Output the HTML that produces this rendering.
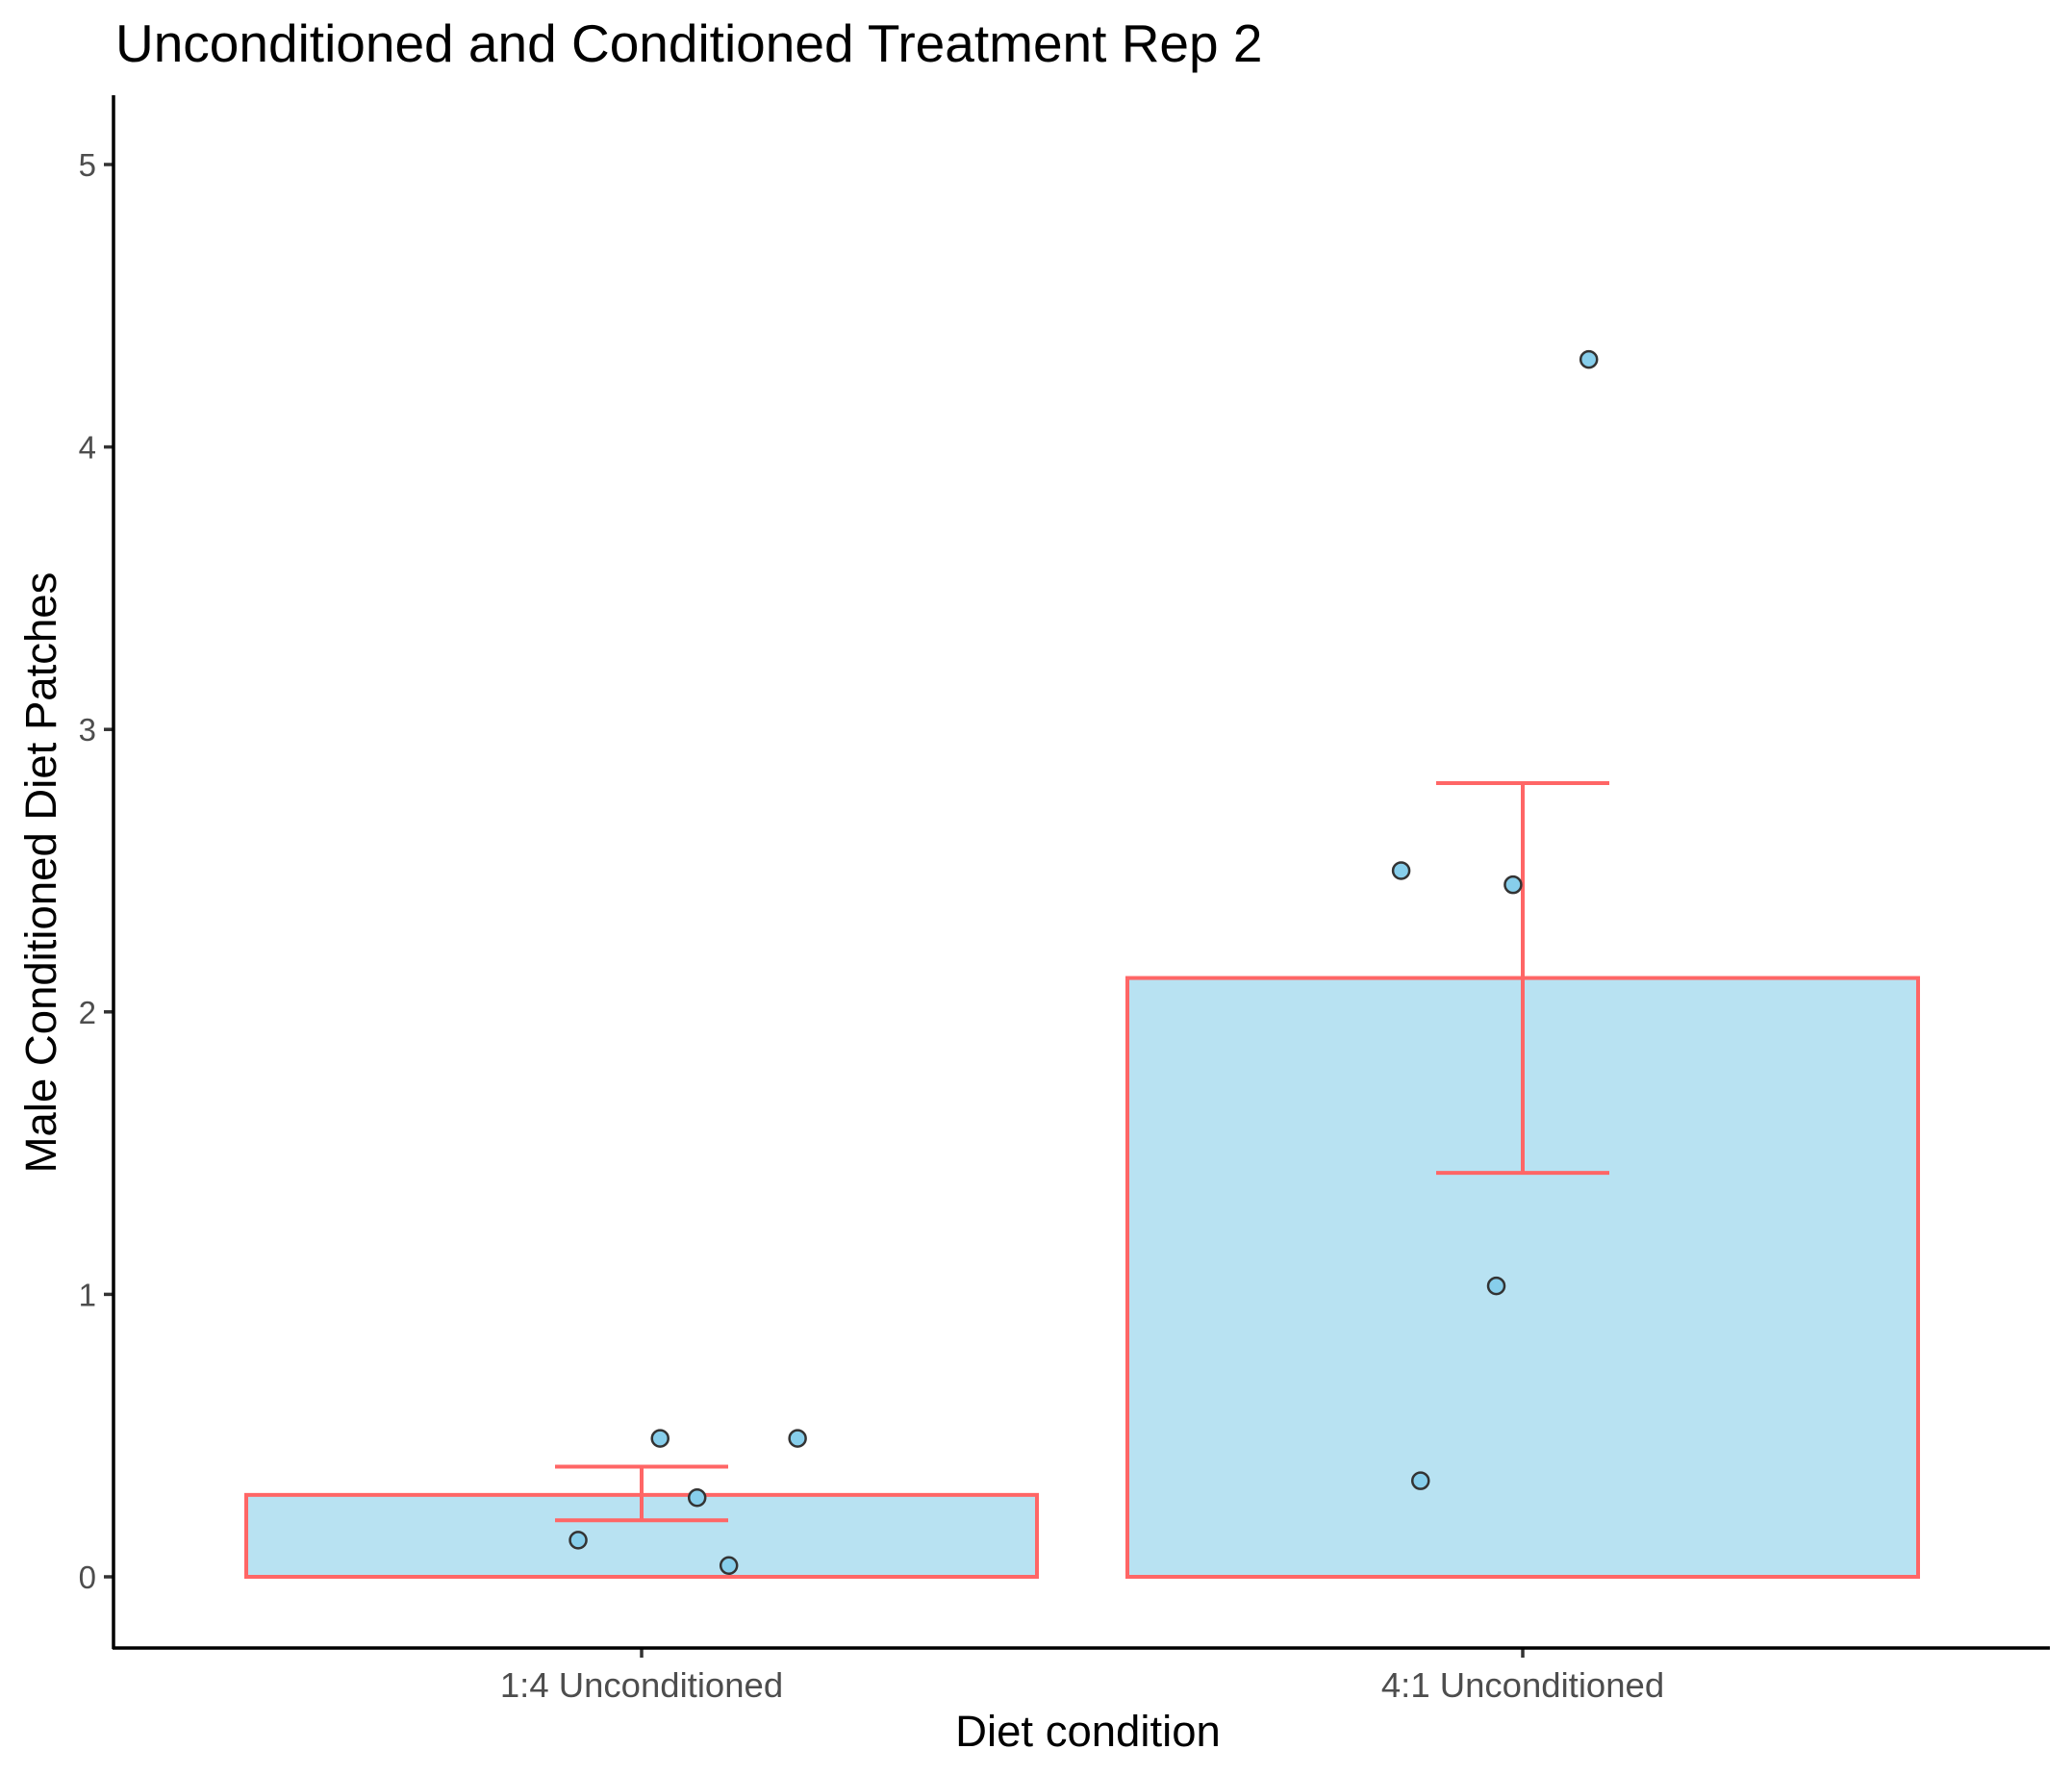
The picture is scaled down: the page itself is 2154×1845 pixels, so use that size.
<!DOCTYPE html>
<html><head><meta charset="utf-8"><style>html,body{margin:0;padding:0;background:#fff}svg{display:block}text{font-family:"Liberation Sans",sans-serif}</style></head>
<body>
<svg id="chart" width="2154" height="1845" viewBox="0 0 2154 1845" xmlns="http://www.w3.org/2000/svg">
<rect width="2154" height="1845" fill="#fff"/>
<text x="120" y="64" font-size="55" fill="#000">Unconditioned and Conditioned Treatment Rep 2</text>
<text transform="translate(58,907) rotate(-90)" text-anchor="middle" font-size="45.5" fill="#000">Male Conditioned Diet Patches</text>
<text x="1131" y="1815" text-anchor="middle" font-size="45.5" fill="#000">Diet condition</text>
<g id="marks"></g>
<line x1="118" y1="99" x2="118" y2="1714" stroke="#000" stroke-width="3.5"/>
<line x1="117" y1="1713" x2="2131" y2="1713" stroke="#000" stroke-width="3.5"/>
</svg>
<script>
const categories = ["1:4 Unconditioned", "4:1 Unconditioned"];
const means = [0.29, 2.12];
const errLow = [0.20, 1.43];
const errHigh = [0.39, 2.81];
const pointCat = [0,0,0,0,0,1,1,1,1,1];
const pointJitter = [-0.072,0.021,0.063,0.099,0.177,-0.138,-0.116,-0.030,-0.011,0.075];
const pointVals = [0.13,0.49,0.28,0.04,0.49,2.50,0.34,1.03,2.45,4.31];
const yTicks = [0,1,2,3,4,5];

const NS = "http://www.w3.org/2000/svg";
const y = v => 1639 - v * 293.6;
const x = c => 667 + c * 916;
const barHalf = 411, capHalf = 90;
const g = document.getElementById('marks');
function mk(tag, attrs){ const e = document.createElementNS(NS, tag); for (const k in attrs) e.setAttribute(k, attrs[k]); g.appendChild(e); return e; }

yTicks.forEach(t => {
  const l = mk('line', {x1:108, x2:118, y1:y(t), y2:y(t), stroke:'#333', 'stroke-width':3.5});
  
  
  const tx = mk('text', {x:100, y:y(t)+12, 'text-anchor':'end', 'font-size':33, fill:'#4d4d4d'});
  tx.textContent = t;
  
  
});
categories.forEach((c, i) => {
  const r = mk('rect', {x:x(i)-barHalf, y:y(means[i]), width:2*barHalf, height:y(0)-y(means[i]), fill:'#b8e2f2', stroke:'#ff6666', 'stroke-width':4});
  
  
  const v = mk('line', {x1:x(i), x2:x(i), y1:y(errLow[i]), y2:y(errHigh[i]), stroke:'#ff6666', 'stroke-width':4});
  
  
  [errLow[i], errHigh[i]].forEach(e => {
    const cap = mk('line', {x1:x(i)-capHalf, x2:x(i)+capHalf, y1:y(e), y2:y(e), stroke:'#ff6666', 'stroke-width':4});
    
    
  });
  const tk = mk('line', {x1:x(i), x2:x(i), y1:1713, y2:1723, stroke:'#333', 'stroke-width':3.5});
  
  
  const lb = mk('text', {x:x(i), y:1764, 'text-anchor':'middle', 'font-size':36.5, fill:'#4d4d4d'});
  lb.textContent = c;
  
  
});
pointVals.forEach((v, i) => {
  const p = mk('circle', {cx:x(pointCat[i] + pointJitter[i]), cy:y(v), r:8.5, fill:'#87ceeb', stroke:'#333', 'stroke-width':2.5});
  
  
});
</script>
</body></html>
